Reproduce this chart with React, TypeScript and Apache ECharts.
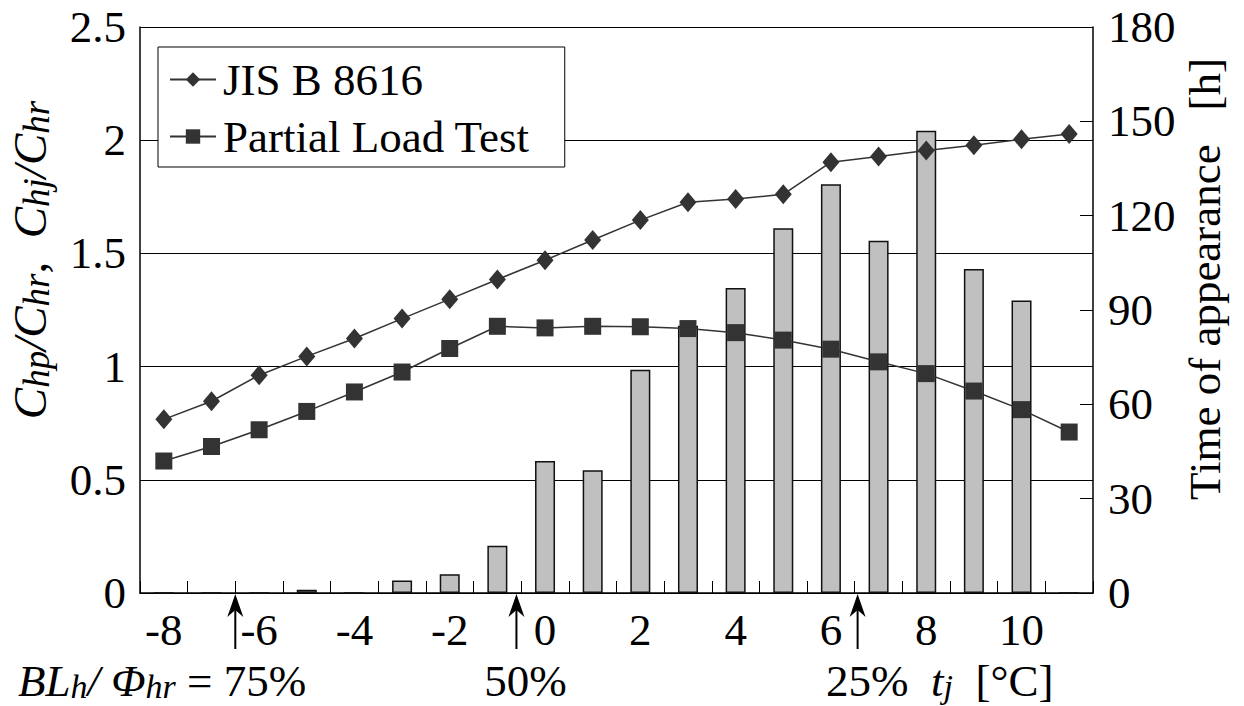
import React, { useEffect, useRef } from "react";
import * as echarts from "echarts";

// Outdoor temperature bins t_j [°C]
const temperatures = ["-8", "-7", "-6", "-5", "-4", "-3", "-2", "-1", "0", "1", "2", "3", "4", "5", "6", "7", "8", "9", "10", "11"];

// Capacity ratio per JIS B 8616 (Chp/Chr)
const jisRatio = [0.767, 0.847, 0.962, 1.045, 1.124, 1.212, 1.298, 1.385, 1.47, 1.559, 1.647, 1.726, 1.74, 1.761, 1.903, 1.928, 1.954, 1.978, 2.004, 2.027];

// Capacity ratio from the partial load test (Chj/Chr)
const partialLoadRatio = [0.583, 0.647, 0.721, 0.802, 0.888, 0.976, 1.08, 1.178, 1.171, 1.178, 1.176, 1.168, 1.15, 1.117, 1.077, 1.021, 0.969, 0.892, 0.81, 0.711];

// Hours of appearance of each temperature bin [h]
const appearanceHours = [0, 0, 0, 1, 0, 4, 6, 15, 42, 39, 71, 85, 97, 116, 130, 112, 147, 103, 93, 0];

// Left / right axis ranges
const ratioAxis = { min: 0, max: 2.5, interval: 0.5 };
const hoursAxis = { min: 0, max: 180, interval: 30 };

// Load ratio markers BLh/Φhr on the temperature axis (fractional bin position)
const loadMarkerTemps = [-6.5, -0.6, 6.56];

const FONT = "Liberation Serif";
const INK = "#333333";

export default function App() {
  const ref = useRef<HTMLDivElement>(null);

  useEffect(() => {
    if (!ref.current) return;
    const chart = echarts.init(ref.current, undefined, { renderer: "svg" });

    const labelStyle = { color: "#000", fontFamily: FONT, fontSize: 45 };

    chart.setOption({
      animation: false,
      backgroundColor: "#fff",
      grid: { left: 140, right: 151, top: 27, bottom: 113, containLabel: false },
      legend: {
        left: 158,
        top: 47,
        orient: "vertical",
        backgroundColor: "#fff",
        borderColor: "#000",
        borderWidth: 1,
        borderRadius: 0,
        padding: [10, 35, 8, 11],
        itemGap: 12,
        itemWidth: 46,
        itemHeight: 18,
        textStyle: { ...labelStyle, fontSize: 45, padding: [0, 0, 0, 2] },
        data: ["JIS B 8616", "Partial Load Test"],
      },
      xAxis: {
        type: "category",
        data: temperatures,
        boundaryGap: true,
        axisLine: { show: true, lineStyle: { color: "#000", width: 1.5 } },
        axisTick: { show: true, inside: true, length: 12, interval: 0, lineStyle: { color: "#000", width: 1 } },
        axisLabel: { ...labelStyle, interval: 1, margin: 14 },
        splitLine: { show: false },
      },
      yAxis: [
        {
          type: "value",
          ...ratioAxis,
          position: "left",
          axisLine: { show: true, lineStyle: { color: "#000", width: 1.5 } },
          axisTick: { show: true, inside: true, length: 12, lineStyle: { color: "#000" } },
          axisLabel: { ...labelStyle, margin: 14 },
          splitLine: { show: true, lineStyle: { color: "#000", width: 1 } },
        },
        {
          type: "value",
          ...hoursAxis,
          position: "right",
          axisLine: { show: true, lineStyle: { color: "#000", width: 1.5 } },
          axisTick: { show: true, inside: true, length: 13, lineStyle: { color: "#000" } },
          axisLabel: { ...labelStyle, margin: 15 },
          splitLine: { show: false },
        },
      ],
      series: [
        {
          name: "Time of appearance",
          type: "bar",
          yAxisIndex: 1,
          data: appearanceHours,
          barWidth: 20,
          itemStyle: { color: "#c0c0c0", borderColor: "#111", borderWidth: 1.5 },
          z: 1,
        },
        {
          name: "JIS B 8616",
          type: "line",
          yAxisIndex: 0,
          data: jisRatio,
          symbol: "diamond",
          symbolSize: [17, 20],
          lineStyle: { color: INK, width: 1.5 },
          itemStyle: { color: INK },
          z: 3,
        },
        {
          name: "Partial Load Test",
          type: "line",
          yAxisIndex: 0,
          data: partialLoadRatio,
          symbol: "rect",
          symbolSize: 17,
          lineStyle: { color: INK, width: 1.5 },
          itemStyle: { color: INK },
          z: 4,
        },
      ],
    });

    // Place the load-ratio arrows on the temperature axis through the axis scale
    const binX = (t: number) => {
      const idx = t + 8;
      const lo = Math.floor(idx);
      const hi = Math.min(lo + 1, temperatures.length - 1);
      const x0 = chart.convertToPixel({ xAxisIndex: 0 }, temperatures[lo]) as number;
      const x1 = chart.convertToPixel({ xAxisIndex: 0 }, temperatures[hi]) as number;
      return x0 + (x1 - x0) * (idx - lo);
    };
    const axisY = chart.convertToPixel({ yAxisIndex: 0 }, 0) as number;
    const arrowBottom = axisY + 56;

    const arrows = loadMarkerTemps.map((t) => {
      const x = binX(t);
      return {
        type: "group",
        children: [
          { type: "line", shape: { x1: x, y1: arrowBottom, x2: x, y2: axisY + 8 }, style: { stroke: "#000", lineWidth: 2 } },
          {
            type: "polygon",
            shape: { points: [[x, axisY + 1], [x - 8, axisY + 24], [x, axisY + 17], [x + 8, axisY + 24]] },
            style: { fill: "#000" },
          },
        ],
      };
    });

    const textRich = {
      i: { fontFamily: FONT, fontSize: 45, fontStyle: "italic", color: "#000" },
      s: { fontFamily: FONT, fontSize: 34, fontStyle: "italic", color: "#000", padding: [10, 0, 0, 0] },
      n: { fontFamily: FONT, fontSize: 45, color: "#000" },
    };
    const nameRich = {
      i: { fontFamily: FONT, fontSize: 47, fontStyle: "italic", color: "#000" },
      s: { fontFamily: FONT, fontSize: 37, fontStyle: "italic", color: "#000", padding: [12, 0, 0, 0] },
      n: { fontFamily: FONT, fontSize: 47, color: "#000" },
    };

    chart.setOption({
      graphic: [
        ...arrows,
        {
          type: "text",
          x: 30,
          y: 260,
          rotation: Math.PI / 2,
          style: {
            text: "{i|C}{s|hp}{i|/C}{s|hr}{n|,  }{i|C}{s|hj}{i|/C}{s|hr}",
            rich: nameRich,
            align: "center",
            verticalAlign: "middle",
          },
        },
        {
          type: "text",
          x: 1205,
          y: 279,
          rotation: Math.PI / 2,
          style: {
            text: "Time of appearance   [h]",
            fontFamily: FONT,
            fontSize: 45,
            fill: "#000",
            align: "center",
            verticalAlign: "middle",
          },
        },
        {
          type: "text",
          x: 18,
          y: 681,
          style: {
            text: "{i|BL}{s|h}{i|/ Φ}{s|hr}{n| = 75%}",
            rich: textRich,
            align: "left",
            verticalAlign: "middle",
          },
        },
        {
          type: "text",
          x: binX(loadMarkerTemps[1]) + 9,
          y: 681,
          style: { text: "50%", fontFamily: FONT, fontSize: 45, fill: "#000", align: "center", verticalAlign: "middle" },
        },
        {
          type: "text",
          x: 826,
          y: 681,
          style: {
            text: "{n|25%  }{i|t}{s|j}{n|  [°C]}",
            rich: textRich,
            align: "left",
            verticalAlign: "middle",
          },
        },
      ],
    });

    return () => chart.dispose();
  }, []);

  return (
    <div
      ref={ref}
      style={{ position: "absolute", left: 0, top: 0, width: 1244, height: 706, background: "#fff" }}
    />
  );
}
